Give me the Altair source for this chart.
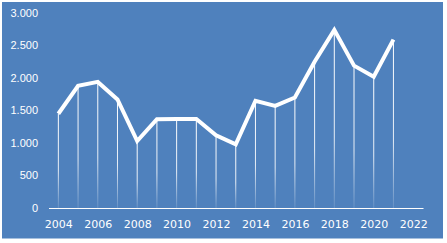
import altair as alt
import pandas as pd

years = list(range(2004, 2022))
values = [1450, 1880, 1940, 1670, 1030, 1365, 1370, 1370, 1120, 980,
          1650, 1570, 1700, 2250, 2740, 2190, 2020, 2590]
x_ticks = list(range(2004, 2023, 2))
y_ticks = [0, 500, 1000, 1500, 2000, 2500, 3000]

BLUE = "#4F81BD"

df = pd.DataFrame({"year": years, "value": values})

xs = alt.Scale(domain=[2003.5, 2022.5], nice=False, zero=False, padding=0)
ys = alt.Scale(domain=[0, 3000], nice=False)

x_axis = alt.Axis(values=x_ticks, format="d", title=None, grid=False,
                  ticks=False, domain=True, domainColor="white",
                  domainWidth=1.2, labelColor="white",
                  labelFont="DejaVu Sans", labelFontSize=11,
                  labelPadding=10, zindex=1, labelOverlap=False)
y_axis = alt.Axis(values=y_ticks, title=None, grid=False, ticks=False,
                  domain=False, labelColor="white",
                  labelFont="Liberation Sans", labelFontSize=11,
                  labelPadding=11, zindex=1, labelOverlap=False,
                  labelExpr="replace(format(datum.value, ','), ',', '.')")

X = alt.X("year:Q", scale=xs, axis=x_axis)
Y = alt.Y("value:Q", scale=ys, axis=y_axis)

bg = alt.Chart(pd.DataFrame({"a": [0]})).mark_rect(color=BLUE, clip=False).encode(
    x=alt.value(-46.5), x2=alt.value(394.5), y=alt.value(-11), y2=alt.value(225.5)
)

base = alt.Chart(df)

drops = base.mark_bar(
    size=1,
    color=alt.Gradient(
        gradient="linear",
        stops=[
            alt.GradientStop(color="#FFFFFF", offset=0),
            alt.GradientStop(color="rgba(255,255,255,0.85)", offset=0.6),
            alt.GradientStop(color="rgba(255,255,255,0.12)", offset=1),
        ],
        x1=0, x2=0, y1=0, y2=1,
    ),
).encode(x=X, y=Y)

line = base.mark_line(color="white", strokeWidth=4, strokeJoin="miter").encode(x=X, y=Y)

chart = alt.layer(bg, drops, line).properties(
    width=374.5, height=195,
    autosize=alt.AutoSizeParams(type="none"),
    padding={"left": 48.5, "top": 13, "right": 24, "bottom": 35},
    background="white",
).configure_view(stroke=None)

chart.save("out.html", embed_options={"renderer": "svg", "actions": False})
